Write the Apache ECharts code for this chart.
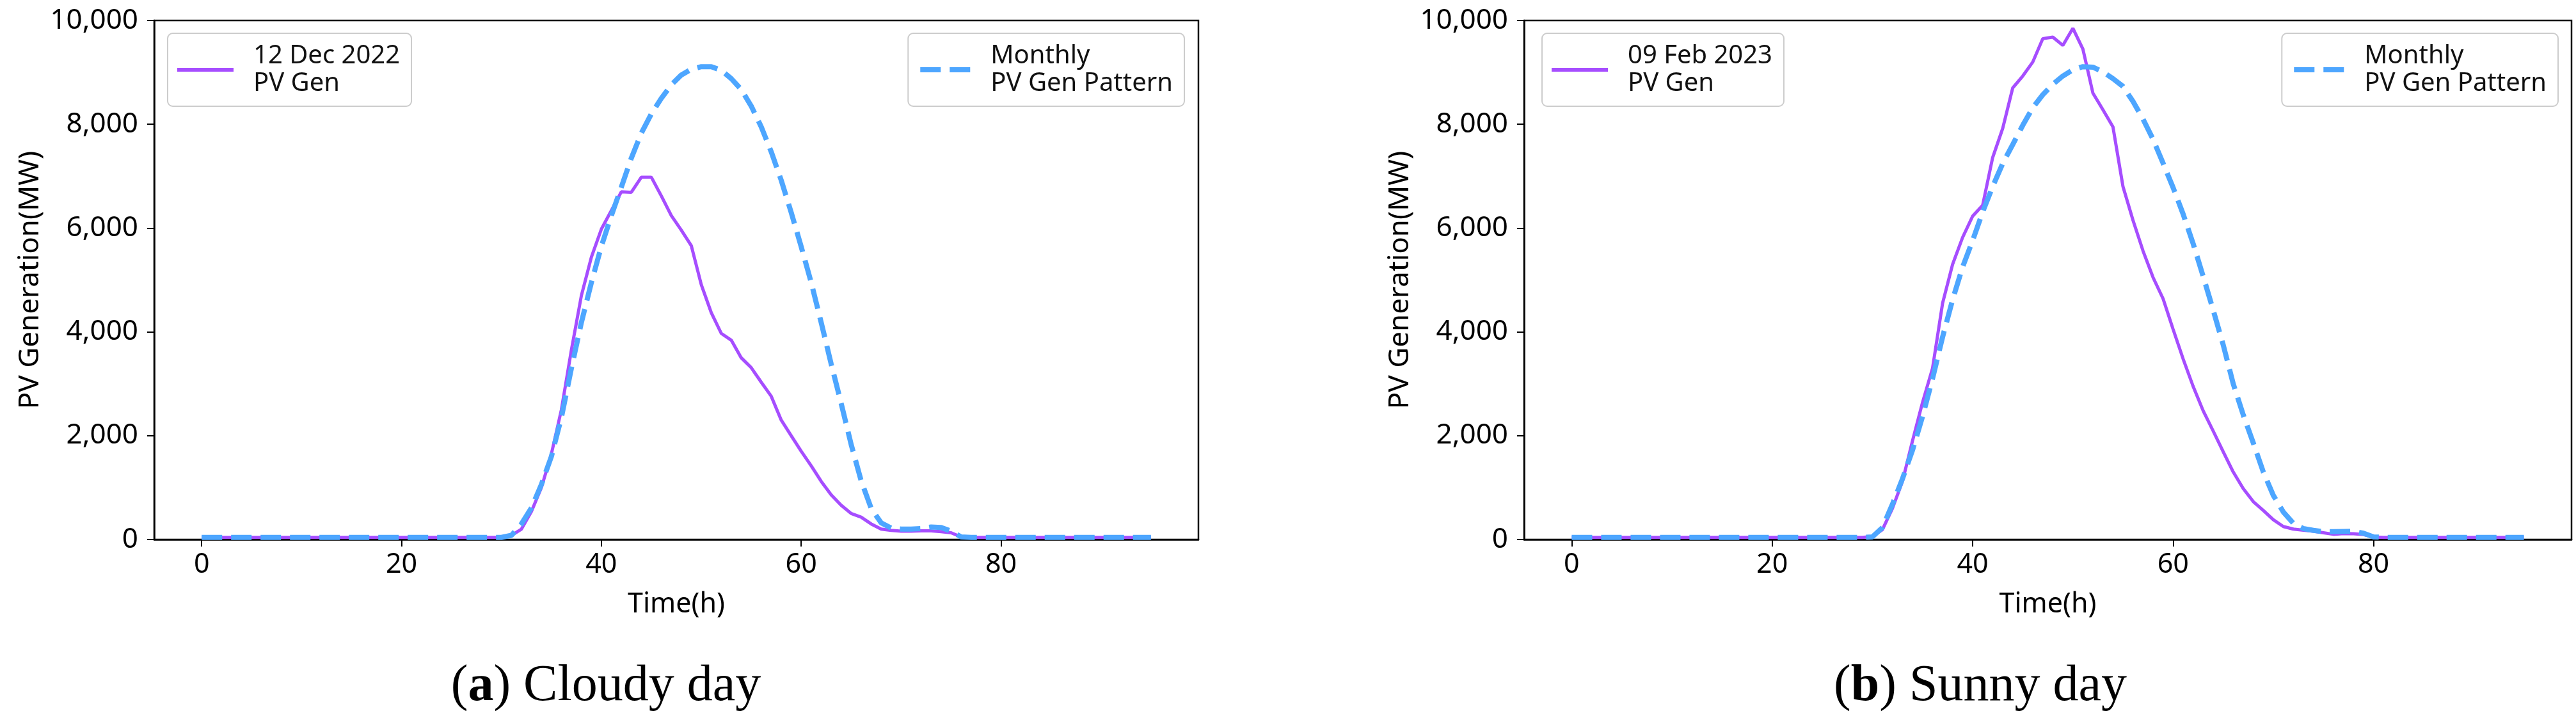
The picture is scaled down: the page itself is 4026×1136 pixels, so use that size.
<!DOCTYPE html>
<html><head><meta charset="utf-8">
<script src="https://cdn.jsdelivr.net/npm/echarts@6/dist/echarts.min.js"></script>
<style>html,body{margin:0;padding:0;background:#fff}#c{width:4026px;height:1136px}</style>
</head><body><div id="c"></div>
<script>
// ---- data (MW per time step) ----
const cloudyPV = [
 40,40,40,40,40,40,40,40,40,40,40,40,40,40,40,40,40,40,40,40,40,40,40,40,40,40,40,40,40,40,40,
 80,200,540,1000,1650,2500,3650,4700,5440,5980,6340,6700,6690,6980,6980,6620,6240,5960,5660,4910,
 4370,3970,3840,3500,3310,3030,2760,2300,2000,1700,1420,1120,860,660,500,430,300,200,175,160,
 160,165,165,150,130,50,
 40,40,40,40,40,40,40,40,40,40,40,40,40,40,40,40,40,40,40];
const decPattern = [
 40,40,40,40,40,40,40,40,40,40,40,40,40,40,40,40,40,40,40,40,40,40,40,40,40,40,40,40,40,40,40,
 80,300,610,1060,1600,2350,3300,4180,4950,5650,6240,6790,7350,7830,8200,8500,8760,8950,9060,9110,
 9110,9040,8880,8670,8350,7950,7470,6920,6300,5640,4950,4180,3380,2620,1830,1130,600,320,220,200,
 200,210,240,230,160,50,
 40,40,40,40,40,40,40,40,40,40,40,40,40,40,40,40,40,40,40];
const sunnyPV = [
 40,40,40,40,40,40,40,40,40,40,40,40,40,40,40,40,40,40,40,40,40,40,40,40,40,40,40,40,40,40,
 60,190,600,1120,1900,2640,3300,4550,5300,5820,6230,6440,7360,7920,8700,8930,9200,9650,9680,9520,
 9850,9450,8600,8280,7950,6800,6150,5560,5050,4640,4050,3480,2950,2480,2090,1690,1300,980,730,560,
 380,250,200,180,160,130,100,115,110,95,50,
 40,40,40,40,40,40,40,40,40,40,40,40,40,40,40];
const febPattern = [
 40,40,40,40,40,40,40,40,40,40,40,40,40,40,40,40,40,40,40,40,40,40,40,40,40,40,40,40,40,40,
 50,230,680,1170,1720,2370,3100,3900,4620,5250,5760,6310,6800,7245,7610,7980,8320,8570,8770,8930,
 9050,9110,9100,9010,8880,8730,8440,8100,7710,7250,6780,6270,5700,5070,4420,3750,3000,2400,1860,1300,
 850,530,310,210,175,150,150,155,160,120,50,
 40,40,40,40,40,40,40,40,40,40,40,40,40,40,40];
const xTickValues = [0, 20, 40, 60, 80];
const yTickValues = [0, 2000, 4000, 6000, 8000, 10000];
const nameCloudy = '12 Dec 2022\nPV Gen';
const nameSunny = '09 Feb 2023\nPV Gen';
const namePattern = 'Monthly\nPV Gen Pattern';
const captionA = ['a', 'Cloudy day'];
const captionB = ['b', 'Sunny day'];

// ---- styling ----
const PURPLE = '#a64dff', BLUE = '#4da6ff';
const FONT = 'Noto Sans';
const pairs = arr => arr.map((v, i) => [i, v]);

function xAx(gi) {
  return {
    gridIndex: gi, type: 'value', min: -4.75, max: 99.75,
    name: 'Time(h)', nameLocation: 'middle', nameGap: 80,
    nameTextStyle: {fontFamily: FONT, fontSize: 43, color: '#000'},
    splitLine: {show: false},
    axisLine: {show: true, onZero: false, lineStyle: {color: '#000', width: 2.5}},
    axisTick: {show: true, inside: false, length: 11, lineStyle: {color: '#000', width: 2}, customValues: xTickValues},
    axisLabel: {show: true, margin: 18, fontFamily: FONT, fontSize: 43, color: '#000', customValues: xTickValues}
  };
}
function yAx(gi) {
  return {
    gridIndex: gi, type: 'value', min: yTickValues[0], max: yTickValues[yTickValues.length - 1], interval: 2000,
    name: 'PV Generation(MW)', nameLocation: 'middle', nameGap: 172, nameRotate: 90,
    nameTextStyle: {fontFamily: FONT, fontSize: 44, color: '#000'},
    splitLine: {show: false},
    axisLine: {show: true, onZero: false, lineStyle: {color: '#000', width: 2.5}},
    axisTick: {show: true, inside: false, length: 11, lineStyle: {color: '#000', width: 2}},
    axisLabel: {show: true, margin: 25, fontFamily: FONT, fontSize: 44, color: '#000',
      formatter: v => Number(v).toLocaleString('en-US')}
  };
}
function legend(name, pos, pad, w, lw) {
  return Object.assign({
    data: [name], orient: 'vertical', selectedMode: false,
    backgroundColor: 'rgba(255,255,255,0.8)', borderColor: '#cccccc', borderWidth: 2, borderRadius: 8,
    padding: pad, itemWidth: w, itemHeight: 20,
    itemStyle: {opacity: 0},
    lineStyle: {width: lw, type: 'inherit', cap: 'butt'},
    textStyle: {fontFamily: FONT, fontSize: 40, color: '#111', lineHeight: 43, padding: [0, 0, 0, 26]}
  }, pos);
}
function lineSeries(name, arr, gi, color, dashed) {
  return {
    name: name, type: 'line', xAxisIndex: gi, yAxisIndex: gi, data: pairs(arr),
    symbol: 'none', smooth: false, z: dashed ? 3 : 2,
    lineStyle: dashed ? {color: color, width: 8, type: [32, 14], cap: 'butt'} : {color: color, width: 5},
    itemStyle: {color: color}
  };
}
function caption(cx, parts) {
  return {
    type: 'text', x: cx, y: 1073,
    style: {
      text: '{r|(}{b|' + parts[0] + '}{r|) ' + parts[1] + '}',
      align: 'center', verticalAlign: 'middle',
      rich: {
        r: {fontFamily: 'Liberation Serif', fontSize: 80, fill: '#000'},
        b: {fontFamily: 'Liberation Serif', fontSize: 80, fontWeight: 'bold', fill: '#000'}
      }
    }
  };
}

const chart = echarts.init(document.getElementById('c'), null, {renderer: 'canvas'});
chart.setOption({
  animation: false,
  backgroundColor: '#fff',
  grid: [
    {left: 241, top: 32, width: 1632, height: 811, show: true, borderColor: '#000', borderWidth: 2.5, backgroundColor: 'transparent', containLabel: false},
    {left: 2382, top: 32, width: 1637, height: 811, show: true, borderColor: '#000', borderWidth: 2.5, backgroundColor: 'transparent', containLabel: false}
  ],
  xAxis: [xAx(0), xAx(1)],
  yAxis: [yAx(0), yAx(1)],
  legend: [
    legend(nameCloudy, {left: 262, top: 52}, [14, 18, 14, 12], 88, 6),
    legend(namePattern, {right: 4026 - 1851, top: 52}, [14, 18, 14, 15], 79, 8),
    legend(nameSunny, {left: 2410, top: 52}, [14, 18, 14, 12], 88, 6),
    legend(namePattern, {right: 4026 - 3998, top: 52}, [14, 18, 14, 15], 79, 8)
  ],
  series: [
    lineSeries(nameCloudy, cloudyPV, 0, PURPLE, false),
    lineSeries(namePattern, decPattern, 0, BLUE, true),
    lineSeries(nameSunny, sunnyPV, 1, PURPLE, false),
    lineSeries(namePattern, febPattern, 1, BLUE, true)
  ],
  graphic: [caption(947, captionA), caption(3095, captionB)]
});
</script></body></html>
